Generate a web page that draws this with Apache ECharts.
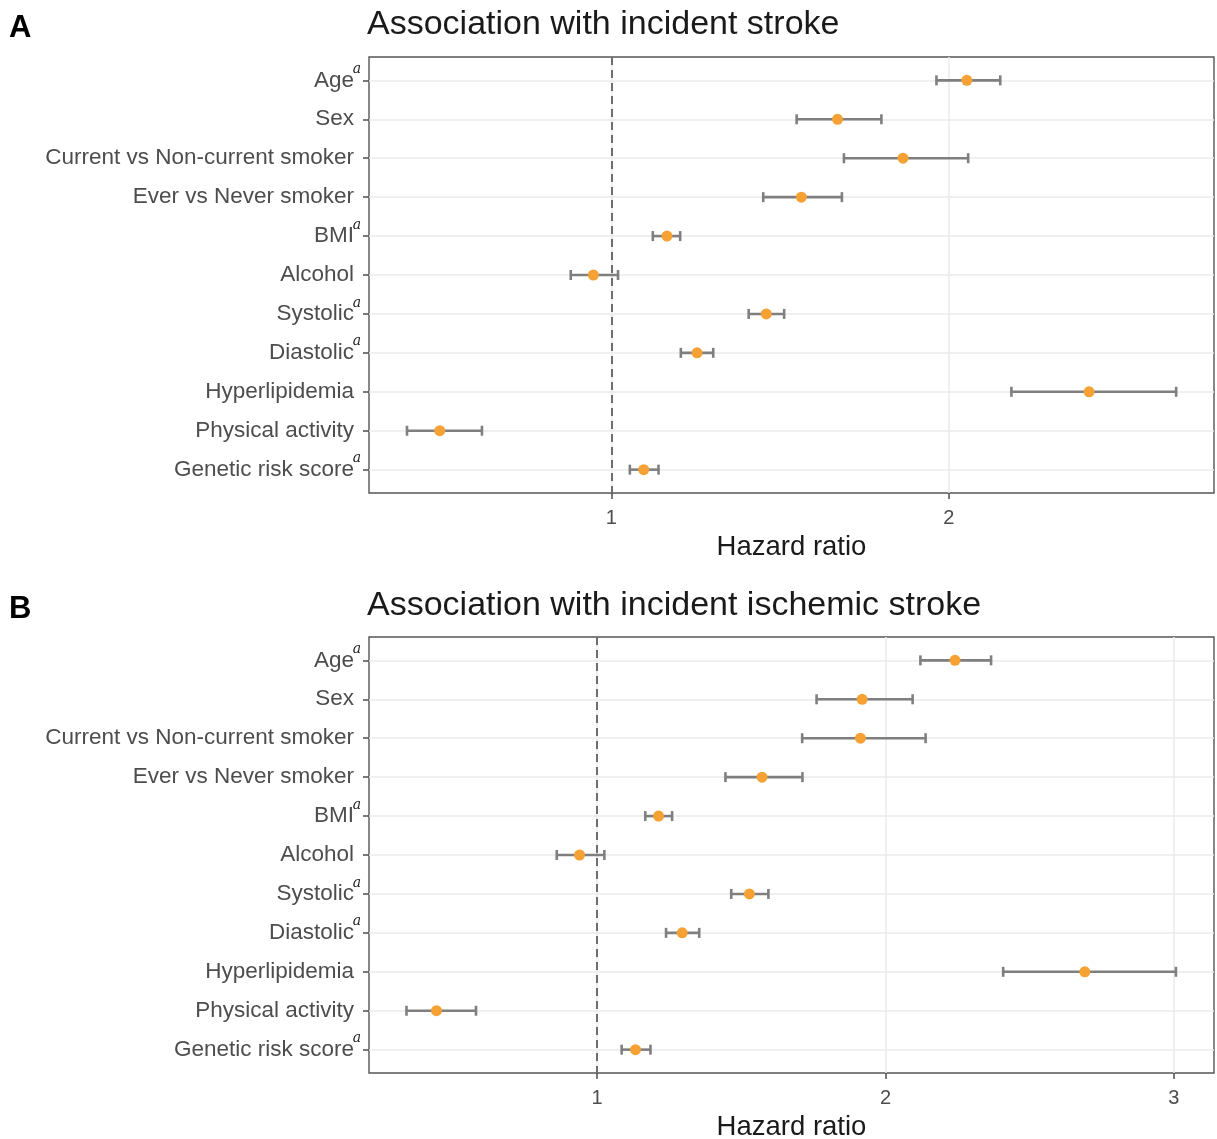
<!DOCTYPE html>
<html>
<head>
<meta charset="utf-8">
<script src="https://cdn.jsdelivr.net/npm/echarts@6/dist/echarts.min.js"></script>
<style>html,body{margin:0;padding:0;background:#fff}#c{width:1217px;height:1139px}</style>
</head>
<body>
<div id="c"></div>
<script>
// ---------- data ----------
const categories = ['Age','Sex','Current vs Non-current smoker','Ever vs Never smoker','BMI','Alcohol','Systolic','Diastolic','Hyperlipidemia','Physical activity','Genetic risk score'];
const superscriptA = [true,false,false,false,true,false,true,true,false,false,true];
const superscriptB = [true,false,false,false,true,false,true,true,false,false,true];

const titleA = 'Association with incident stroke';
const titleB = 'Association with incident ischemic stroke';
const panelLabels = ['A','B'];
const xAxisName = 'Hazard ratio';

// Panel A: hazard ratio estimates and 95% CI
const hrA    = [2.053,1.670,1.864,1.563,1.165,0.947,1.459,1.254,2.415,0.492,1.096];
const lowerA = [1.963,1.549,1.689,1.450,1.123,0.880,1.407,1.206,2.185,0.395,1.055];
const upperA = [2.152,1.800,2.057,1.683,1.204,1.020,1.512,1.302,2.673,0.617,1.140];

// Panel B
const hrB    = [2.241,1.919,1.913,1.572,1.213,0.939,1.528,1.295,2.691,0.443,1.133];
const lowerB = [2.121,1.761,1.711,1.445,1.167,0.860,1.465,1.239,2.408,0.339,1.085];
const upperB = [2.366,2.094,2.139,1.712,1.260,1.025,1.594,1.354,3.007,0.580,1.185];

const xTicksA = [1,2];
const xTicksB = [1,2,3];
const xRangeA = [0.2825, 2.785];
const xRangeB = [0.209, 3.139];
const refLine = 1;

// ---------- styles ----------
const ORANGE = '#F5A133';
const BAR = '#7f7f7f';
const GRIDC = '#ebebeb';
const TXT = '#4d4d4d';
const idx = categories.map((_, i) => i);

function yAxis(gridIndex, sup) {
  return {
    type: 'value', gridIndex, inverse: true, min: -0.6, max: 10.6,
    axisLine: { show: false, onZero: false },
    axisTick: { show: true, length: 6, customValues: idx, lineStyle: { color: TXT, width: 1.5 } },
    splitLine: { show: true, lineStyle: { color: GRIDC, width: 1.5 } },
    axisLabel: {
      customValues: idx, margin: 8, color: TXT,
      formatter: v => '{n|' + categories[v] + '}' + (sup[v] ? '{s|a}' : '{p| }'),
      rich: {
        n: { fontSize: 22.5, color: TXT, fontFamily: 'Liberation Sans', lineHeight: 36, verticalAlign: 'middle' },
        s: { fontSize: 14, color: '#222', fontFamily: 'DejaVu Serif', fontStyle: 'italic', width: 7, lineHeight: 16, verticalAlign: 'top' },
        p: { fontSize: 14, width: 7, lineHeight: 16 }
      }
    }
  };
}
function xAxis(gridIndex, range, ticks) {
  return {
    type: 'value', gridIndex, min: range[0], max: range[1], position: 'bottom',
    axisLine: { show: false, onZero: false },
    axisTick: { show: true, length: 6, customValues: ticks, lineStyle: { color: TXT, width: 1.5 } },
    splitLine: { show: true, lineStyle: { color: GRIDC, width: 1.5 } },
    axisLabel: { customValues: ticks, margin: 15, fontSize: 20, color: TXT, fontFamily: 'Liberation Sans' },
    name: xAxisName, nameLocation: 'middle', nameGap: 40,
    nameTextStyle: { fontSize: 27.5, color: '#1a1a1a', fontFamily: 'Liberation Sans' }
  };
}
function errSeries(axisIndex, lo, hi) {
  return {
    type: 'custom', xAxisIndex: axisIndex, yAxisIndex: axisIndex, z: 3,
    data: lo.map((l, i) => [l, hi[i], i]),
    encode: { x: [0, 1], y: 2 },
    renderItem: (params, api) => {
      const a = api.coord([api.value(0), api.value(2)]);
      const b = api.coord([api.value(1), api.value(2)]);
      const h = 5;
      const st = { stroke: BAR, lineWidth: 2.6 };
      return { type: 'group', children: [
        { type: 'line', shape: { x1: a[0], y1: a[1], x2: b[0], y2: b[1] }, style: st },
        { type: 'line', shape: { x1: a[0], y1: a[1] - h, x2: a[0], y2: a[1] + h }, style: st },
        { type: 'line', shape: { x1: b[0], y1: b[1] - h, x2: b[0], y2: b[1] + h }, style: st }
      ]};
    },
    markLine: {
      silent: true, symbol: 'none', label: { show: false },
      lineStyle: { type: [8, 5], color: '#6e6e6e', width: 2 },
      data: [{ xAxis: refLine }]
    }
  };
}
function ptSeries(axisIndex, hr) {
  return {
    type: 'scatter', xAxisIndex: axisIndex, yAxisIndex: axisIndex, z: 4,
    symbolSize: 11, itemStyle: { color: ORANGE, opacity: 1 },
    data: hr.map((v, i) => [v, i])
  };
}

const chart = echarts.init(document.getElementById('c'), null, { renderer: 'canvas' });
chart.setOption({
  animation: false,
  backgroundColor: '#fff',
  title: [
    { text: panelLabels[0], left: 9, top: 13, padding: 0, textStyle: { fontSize: 31, fontWeight: 'bold', color: '#000', fontFamily: 'Liberation Sans' } },
    { text: titleA, left: 367, top: 8, padding: 0, textStyle: { fontSize: 34, fontWeight: 'normal', color: '#1a1a1a', fontFamily: 'Liberation Sans' } },
    { text: panelLabels[1], left: 9, top: 594, padding: 0, textStyle: { fontSize: 31, fontWeight: 'bold', color: '#000', fontFamily: 'Liberation Sans' } },
    { text: titleB, left: 367, top: 589, padding: 0, textStyle: { fontSize: 34, fontWeight: 'normal', color: '#1a1a1a', fontFamily: 'Liberation Sans' } }
  ],
  grid: [
    { left: 369, right: 3, top: 57, height: 436, show: true, borderColor: '#555', borderWidth: 1.4, backgroundColor: 'transparent', outerBoundsMode: 'none', containLabel: false },
    { left: 369, right: 3, top: 637, height: 436, show: true, borderColor: '#555', borderWidth: 1.4, backgroundColor: 'transparent', outerBoundsMode: 'none', containLabel: false }
  ],
  xAxis: [xAxis(0, xRangeA, xTicksA), xAxis(1, xRangeB, xTicksB)],
  yAxis: [yAxis(0, superscriptA), yAxis(1, superscriptB)],
  series: [
    errSeries(0, lowerA, upperA), ptSeries(0, hrA),
    errSeries(1, lowerB, upperB), ptSeries(1, hrB)
  ]
});
</script>
</body>
</html>
